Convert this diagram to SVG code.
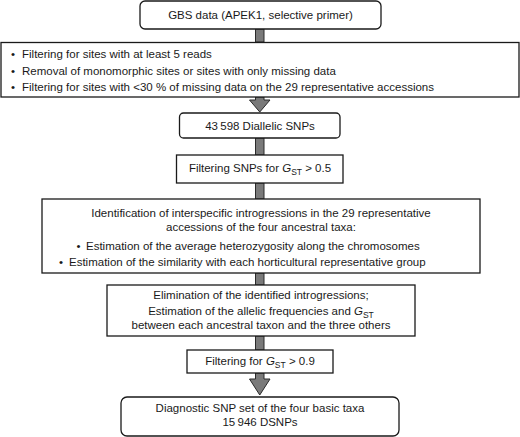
<svg xmlns="http://www.w3.org/2000/svg" width="520" height="437" viewBox="0 0 520 437">
<style>
.box{fill:#fff;stroke:#1a1a1a;stroke-width:1.3}
.t{font-family:"Liberation Sans",Arial,sans-serif;font-size:11.5px;fill:#1a1a1a}
.c{text-anchor:middle}
.sub{font-size:8.5px}
.arr{fill:#7a7a7a;stroke:#2a2a2a;stroke-width:1}
</style>
<rect width="520" height="437" fill="#fff"/>
<g id="connectors">
<rect class="arr" x="255.5" y="29" width="8.5" height="13"/>
<path class="arr" d="M255.5,97 L264,97 L264,100 L270,100 L259.75,112 L249.5,100 L255.5,100 Z"/>
<rect class="arr" x="255.5" y="138" width="8.5" height="17"/>
<rect class="arr" x="255.5" y="183" width="8.5" height="16"/>
<rect class="arr" x="255.5" y="273" width="8.5" height="12"/>
<rect class="arr" x="255.5" y="336" width="8.5" height="14"/>
<path class="arr" d="M255.5,373 L264,373 L264,379 L270,379 L259.75,395 L249.5,379 L255.5,379 Z"/>
</g>
<g id="n1">
<rect class="box" x="140" y="1" width="241" height="28" rx="5"/>
<text class="t c" x="260.5" y="19">GBS data (APEK1, selective primer)</text>
</g>
<g id="n2">
<rect class="box" x="1" y="42.5" width="518" height="54.5"/>
<text class="t" x="11" y="58">•</text><text class="t" x="22" y="58">Filtering for sites with at least 5 reads</text>
<text class="t" x="11" y="75">•</text><text class="t" x="22" y="75">Removal of monomorphic sites or sites with only missing data</text>
<text class="t" x="11" y="91">•</text><text class="t" x="22" y="91">Filtering for sites with &lt;30 % of missing data on the 29 representative accessions</text>
</g>
<g id="n3">
<rect class="box" x="179.5" y="113" width="160.5" height="25" rx="4"/>
<text class="t c" x="260" y="130">43&#8201;598 Diallelic SNPs</text>
</g>
<g id="n4">
<rect class="box" x="176.5" y="155" width="166.5" height="28"/>
<text class="t c" x="260" y="172">Filtering SNPs for <tspan font-style="italic">G</tspan><tspan class="sub" dy="3">ST</tspan><tspan dy="-3"> &gt; 0.5</tspan></text>
</g>
<g id="n5">
<rect class="box" x="42" y="199" width="438" height="74"/>
<text class="t c" x="261" y="217">Identification of interspecific introgressions in the 29 representative</text>
<text class="t c" x="261" y="231">accessions of the four ancestral taxa:</text>
<text class="t" x="76.5" y="250">•</text><text class="t" x="86" y="250">Estimation of the average heterozygosity along the chromosomes</text>
<text class="t" x="59" y="266">•</text><text class="t" x="69" y="266">Estimation of the similarity with each horticultural representative group</text>
</g>
<g id="n6">
<rect class="box" x="107" y="285" width="308" height="51"/>
<text class="t c" x="261" y="299">Elimination of the identified introgressions;</text>
<text class="t c" x="261" y="315">Estimation of the allelic frequencies and <tspan font-style="italic">G</tspan><tspan class="sub" dy="3">ST</tspan></text>
<text class="t c" x="261" y="329">between each ancestral taxon and the three others</text>
</g>
<g id="n7">
<rect class="box" x="187" y="350" width="146" height="23"/>
<text class="t c" x="260" y="365">Filtering for <tspan font-style="italic">G</tspan><tspan class="sub" dy="3">ST</tspan><tspan dy="-3"> &gt; 0.9</tspan></text>
</g>
<g id="n8">
<rect class="box" x="121" y="397" width="278" height="39" rx="6"/>
<text class="t c" x="260" y="412">Diagnostic SNP set of the four basic taxa</text>
<text class="t c" x="260" y="426">15&#8201;946 DSNPs</text>
</g>
</svg>
